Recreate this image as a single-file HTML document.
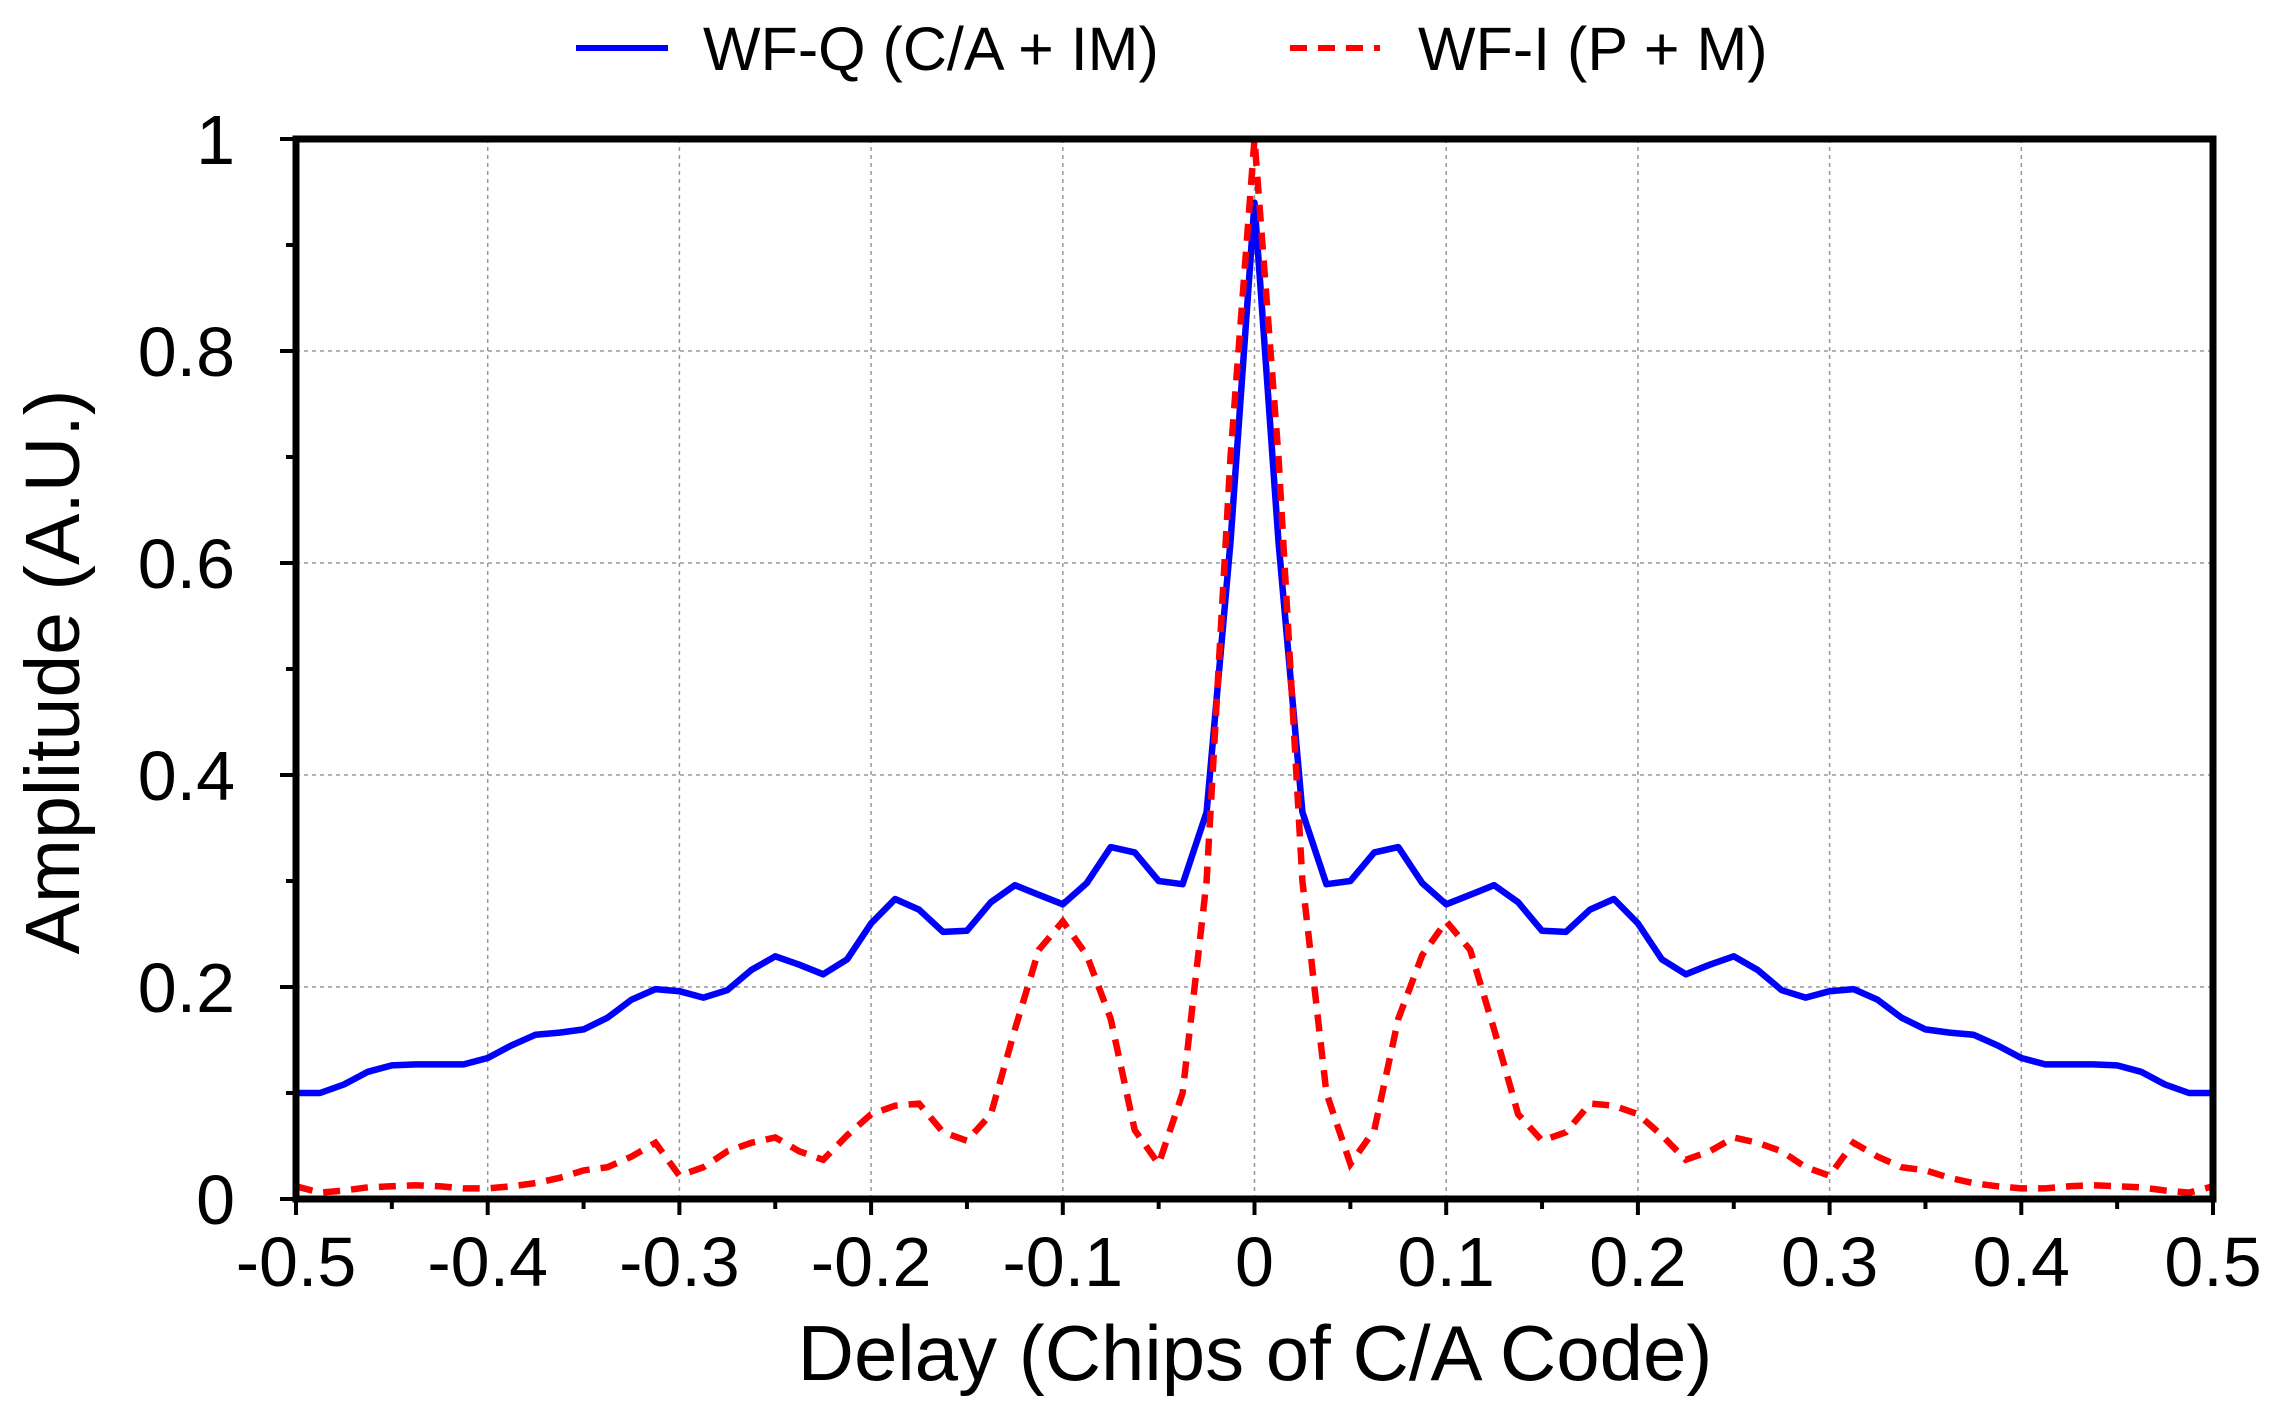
<!DOCTYPE html>
<html><head><meta charset="utf-8"><style>
html,body{margin:0;padding:0;background:#fff;}
svg{display:block;font-family:"Liberation Sans",Arial,sans-serif;}
</style></head><body>
<svg id="chart" width="2287" height="1406" viewBox="0 0 2287 1406" xmlns="http://www.w3.org/2000/svg">
<g id="grid"></g>
<g id="series"></g>
<g id="axes"></g>
<g id="legend">
  <line x1="576" y1="48" x2="668" y2="48" stroke="#0000ff" stroke-width="6"/>
  <text x="703" y="70" font-size="61" fill="#000">WF-Q (C/A + IM)</text>
  <line x1="1290" y1="48" x2="1380" y2="48" stroke="#ff0000" stroke-width="6" stroke-dasharray="17,11"/>
  <text x="1418" y="70" font-size="61" fill="#000">WF-I (P + M)</text>
</g>
<text x="1255" y="1380" font-size="78" text-anchor="middle" fill="#000">Delay (Chips of C/A Code)</text>
<text transform="translate(79,672) rotate(-90)" font-size="77" text-anchor="middle" fill="#000">Amplitude (A.U.)</text>
</svg>
<script>
const xValues = [-0.5,-0.4875,-0.475,-0.4625,-0.45,-0.4375,-0.425,-0.4125,-0.4,-0.3875,-0.375,-0.3625,-0.35,-0.3375,-0.325,-0.3125,-0.3,-0.2875,-0.275,-0.2625,-0.25,-0.2375,-0.225,-0.2125,-0.2,-0.1875,-0.175,-0.1625,-0.15,-0.1375,-0.125,-0.1125,-0.1,-0.0875,-0.075,-0.0625,-0.05,-0.0375,-0.025,-0.0125,0,0.0125,0.025,0.0375,0.05,0.0625,0.075,0.0875,0.1,0.1125,0.125,0.1375,0.15,0.1625,0.175,0.1875,0.2,0.2125,0.225,0.2375,0.25,0.2625,0.275,0.2875,0.3,0.3125,0.325,0.3375,0.35,0.3625,0.375,0.3875,0.4,0.4125,0.425,0.4375,0.45,0.4625,0.475,0.4875,0.5];
const wfqValues = [0.10,0.10,0.108,0.12,0.126,0.127,0.127,0.127,0.133,0.145,0.155,0.157,0.16,0.171,0.188,0.198,0.196,0.19,0.197,0.216,0.229,0.221,0.212,0.226,0.26,0.283,0.273,0.252,0.253,0.28,0.296,0.287,0.278,0.298,0.332,0.327,0.30,0.297,0.365,0.62,0.94,0.62,0.365,0.297,0.30,0.327,0.332,0.298,0.278,0.287,0.296,0.28,0.253,0.252,0.273,0.283,0.26,0.226,0.212,0.221,0.229,0.216,0.197,0.19,0.196,0.198,0.188,0.171,0.16,0.157,0.155,0.145,0.133,0.127,0.127,0.127,0.126,0.12,0.108,0.10,0.10];
const wfiValues = [0.012,0.006,0.008,0.011,0.012,0.013,0.012,0.01,0.01,0.012,0.015,0.02,0.027,0.03,0.04,0.053,0.022,0.03,0.045,0.053,0.058,0.045,0.037,0.06,0.08,0.088,0.09,0.063,0.055,0.08,0.16,0.235,0.262,0.23,0.17,0.065,0.033,0.10,0.30,0.70,1.0,0.70,0.30,0.10,0.033,0.065,0.17,0.23,0.262,0.235,0.16,0.08,0.055,0.063,0.09,0.088,0.08,0.06,0.037,0.045,0.058,0.053,0.045,0.03,0.022,0.053,0.04,0.03,0.027,0.02,0.015,0.012,0.01,0.01,0.012,0.013,0.012,0.011,0.008,0.006,0.012];
const xTicks = [-0.5,-0.4,-0.3,-0.2,-0.1,0,0.1,0.2,0.3,0.4,0.5];
const xTickLabels = ["-0.5","-0.4","-0.3","-0.2","-0.1","0","0.1","0.2","0.3","0.4","0.5"];
const yTicks = [0,0.2,0.4,0.6,0.8,1];
const yTickLabels = ["0","0.2","0.4","0.6","0.8","1"];

const L=296,R=2213,T=139,B=1199;
const sx=v=>L+(v+0.5)*(R-L);
const sy=v=>B-v*(B-T);
const NS='http://www.w3.org/2000/svg';
function mk(tag,attrs,parent){const e=document.createElementNS(NS,tag);for(const k in attrs)e.setAttribute(k,attrs[k]);parent.appendChild(e);return e;}
const grid=document.getElementById('grid'),series=document.getElementById('series'),axes=document.getElementById('axes');
for(let v=-0.4;v<0.45;v+=0.1){const x=sx(v);const g=mk('line',{x1:x,y1:T,x2:x,y2:B,stroke:'#999','stroke-width':1.5,'stroke-dasharray':'4,4'},grid);

}
for(let v=0.2;v<0.95;v+=0.2){const y=sy(v);const g=mk('line',{x1:L,y1:y,x2:R,y2:y,stroke:'#999','stroke-width':1.5,'stroke-dasharray':'4,4'},grid);

}
function path(vals){return vals.map((v,i)=>(i?'L':'M')+sx(xValues[i]).toFixed(1)+','+sy(v).toFixed(1)).join(' ');}
const pq=mk('path',{d:path(wfqValues),fill:'none',stroke:'#0000ff','stroke-width':6.5,'stroke-linejoin':'round'},series);


const pi=mk('path',{d:path(wfiValues),fill:'none',stroke:'#ff0000','stroke-width':6.5,'stroke-dasharray':'17,11'},series);


const frame=mk('rect',{x:L,y:T,width:R-L,height:B-T,fill:'none',stroke:'#000','stroke-width':7},axes);


for(let i=0;i<=20;i++){const v=-0.5+i*0.05;const x=sx(v);const len=(i%2===0)?16:10;
const t=mk('line',{x1:x,y1:B,x2:x,y2:B+len,stroke:'#000','stroke-width':4},axes);

}
for(let i=0;i<=10;i++){const v=i*0.1;const y=sy(v);const len=(i%2===0)?16:10;
const t=mk('line',{x1:L-len,y1:y,x2:L,y2:y,stroke:'#000','stroke-width':4},axes);

}
xTicks.forEach((v,i)=>{const t=mk('text',{x:sx(v),y:1286,'font-size':70,'text-anchor':'middle',fill:'#000'},axes);t.textContent=xTickLabels[i];

});
yTicks.forEach((v,i)=>{const t=mk('text',{x:235,y:sy(v)+25,'font-size':70,'text-anchor':'end',fill:'#000'},axes);t.textContent=yTickLabels[i];

});
</script>
</body></html>
